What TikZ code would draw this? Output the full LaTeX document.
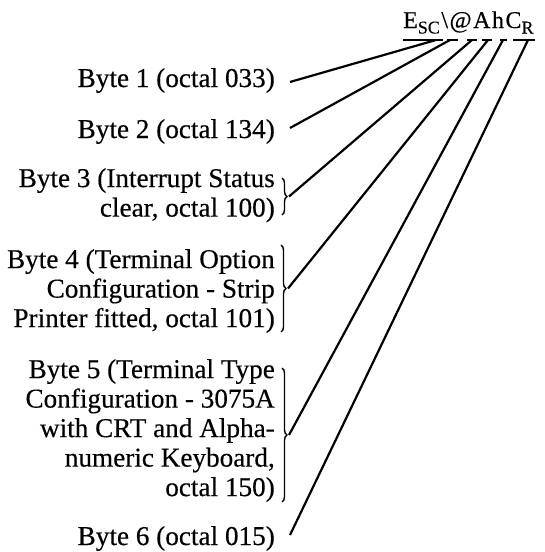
\documentclass[tikz,border=0pt]{standalone}
\usepackage{fontspec}
\setmainfont{Liberation Serif}
\newfontfamily\lblfont[FakeBold=0.35]{Liberation Serif}
\usetikzlibrary{decorations.pathreplacing}
\begin{document}
\begin{tikzpicture}[x=1pt,y=-1pt,
  lbl/.style={font=\lblfont\fontsize{27.2}{29.5}\selectfont, inner sep=0pt, align=right},
  conn/.style={line width=2.2pt},
  uline/.style={line width=2.5pt},
  bracebox/.style={decorate, decoration={brace, amplitude=5pt}, line width=1.4pt}]
\useasboundingbox (0,0) rectangle (544,552);
% title
\node[anchor=base west, inner sep=0pt, font=\lblfont\fontsize{24}{24}\selectfont] (title) at (403,28)
  {E\raisebox{-5.5pt}{\fontsize{18}{18}\selectfont SC}\kern1.5pt\textbackslash\kern1.5pt@\kern1.5pt A\kern1.5pt h\kern1.5pt C\raisebox{-5.5pt}{\fontsize{18}{18}\selectfont R}};
% underline segments
\draw[uline] (403,40) -- (443,40);
\draw[uline] (447,40) -- (458,40);
\draw[uline] (467,40) -- (477,40);
\draw[uline] (482,40) -- (492,40);
\draw[uline] (500,40) -- (507,40);
\draw[uline] (513,40) -- (535,40);
\coordinate (t1) at (436,40);
\coordinate (t2) at (450,40);
\coordinate (t3) at (472,40);
\coordinate (t4) at (488,40);
\coordinate (t5) at (503,40);
\coordinate (t6) at (528,40);
% labels
\node[lbl, anchor=base east] (b1) at (275,87) {Byte 1 (octal 033)};
\node[lbl, anchor=base east] (b2) at (275,138) {Byte 2 (octal 134)};
\node[lbl, anchor=north east] (b3) at (275,168) {Byte 3 (Interrupt Status\\clear, octal 100)};
\node[lbl, anchor=north east] (b4) at (275,249) {Byte 4 (Terminal Option\\Configuration - Strip\\Printer fitted, octal 101)};
\node[lbl, anchor=north east] (b5) at (275,359) {Byte 5 (Terminal Type\\Configuration - 3075A\\with CRT and Alpha-\\numeric Keyboard,\\octal 150)};
\node[lbl, anchor=base east] (b6) at (275,545) {Byte 6 (octal 015)};
% braces
\draw[bracebox] (282,178) -- (282,215);
\draw[bracebox] (281,245) -- (281,332);
\draw[bracebox] (282,368) -- (282,502);
\coordinate (e1) at (290,82);
\coordinate (e2) at (290,128);
\coordinate (e3) at (289,196.5);
\coordinate (e4) at (288,288.5);
\coordinate (e5) at (289,435);
\coordinate (e6) at (290,535);
% connectors
\draw[conn] (e1) -- (t1);
\draw[conn] (e2) -- (t2);
\draw[conn] (e3) -- (t3);
\draw[conn] (e4) -- (t4);
\draw[conn] (e5) -- (t5);
\draw[conn] (e6) -- (t6);
\end{tikzpicture}
\end{document}
